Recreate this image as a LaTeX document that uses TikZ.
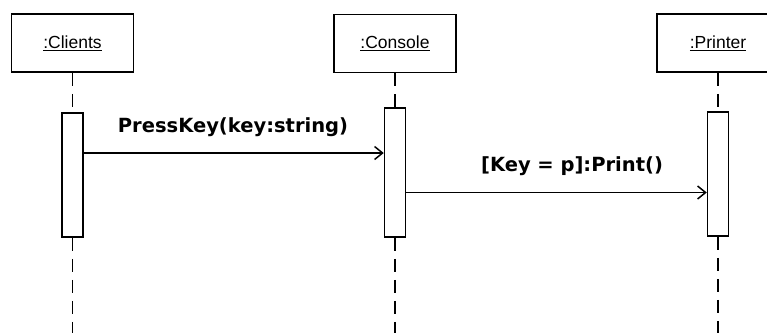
\documentclass[tikz,border=0pt]{standalone}
\usepackage{fontspec}
\usepackage{tikz}
\usetikzlibrary{arrows.meta,positioning,calc}
\newfontfamily\objfont{Liberation Sans}
\newfontfamily\msgfont{DejaVu Sans}

\begin{document}
\begin{tikzpicture}[x=1pt,y=-1pt,
  obj/.style={draw,line width=1.6pt,minimum width=122pt,minimum height=58pt,inner sep=0pt,font=\objfont\fontsize{17.5}{19}\selectfont},
  act/.style={draw,fill=white,line width=1.5pt,minimum width=21pt,inner sep=0pt},
  life/.style={line width=1.5pt,dash pattern=on 13pt off 8pt},
  msg/.style={line width=1.5pt,-{Straight Barb[length=8pt,width=13pt]}},
  lbl/.style={font=\msgfont\bfseries\fontsize{19.5}{21}\selectfont,inner sep=1pt}]
 \useasboundingbox (0,0) rectangle (767,333);
 % objects
 \node[obj] (cli) at (72.5,43)  {\underline{:Clients}};
 \node[obj] (con) at (395,43.5) {\underline{:Console}};
 \node[obj] (prn) at (718,43)   {\underline{:Printer}};
 % activations
 \node[act,minimum height=124pt] (cliact) at (72.5,175)  {};
 \node[act,minimum height=129pt] (conact) at (395,172.5) {};
 \node[act,minimum height=124pt] (prnact) at (718,174)   {};
 % lifelines
 \coordinate (bot) at (0,333);
 \foreach \o in {cli,con,prn}{
   \draw[life] (\o.south) -- (\o act.north);
   \draw[life] (\o act.south) -- (\o act.south |- bot);
 }
 % messages
 \coordinate (m1) at (0,153);
 \coordinate (m2) at (0,192.5);
 \draw[msg] (cliact.east |- m1) -- (conact.west |- m1);
 \draw[msg] (conact.east |- m2) -- (prnact.west |- m2);
 \node[lbl] (l1) at (233,127) {PressKey(key:string)};
 \node[lbl] (l2) at (572,166) {[Key = p]:Print()};
\end{tikzpicture}
\end{document}
